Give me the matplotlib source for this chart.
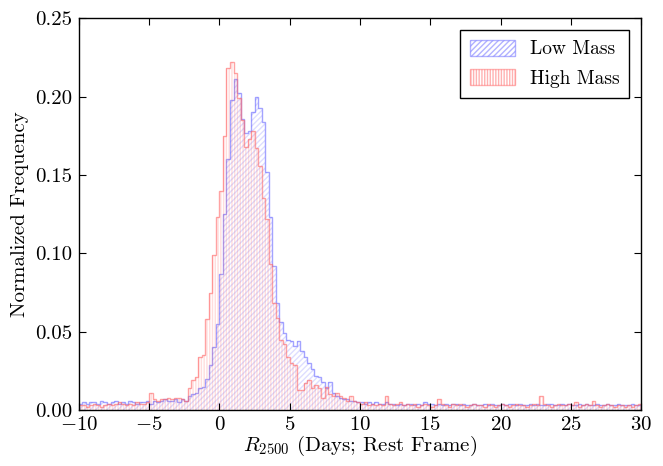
import numpy as np
import matplotlib
matplotlib.use("Agg")
import matplotlib.pyplot as plt
from matplotlib.patches import Patch

plt.rcParams['font.family'] = 'serif'
plt.rcParams['font.serif'] = ['cmr10']
plt.rcParams['mathtext.fontset'] = 'cm'
plt.rcParams['axes.formatter.use_mathtext'] = True
plt.rcParams['axes.unicode_minus'] = True

bin_edges = np.arange(-10.0, 30.0001, 0.25)

# Low Mass (blue) bin heights, -10 -> 30 in 0.25 steps
low_left = [0.004, 0.005, 0.004, 0.005, 0.005, 0.004, 0.006, 0.005, 0.004, 0.005,
            0.006, 0.004, 0.005, 0.004, 0.006, 0.005, 0.004, 0.005, 0.005, 0.006,
            0.004, 0.006, 0.005, 0.006, 0.007, 0.006, 0.006]
low_rise = [0.007, 0.005, 0.007, 0.006, 0.009, 0.010, 0.011, 0.014, 0.015, 0.020,
            0.029, 0.040, 0.055, 0.087]
low_core = [0.125, 0.160, 0.198, 0.211, 0.202, 0.186, 0.177, 0.178, 0.190, 0.200,
            0.193, 0.184, 0.152, 0.123, 0.092, 0.068, 0.056, 0.049, 0.045, 0.044,
            0.041, 0.044, 0.038, 0.034, 0.030, 0.026, 0.022, 0.021, 0.018, 0.014,
            0.018, 0.011, 0.009]
low_right = [0.008, 0.007, 0.007, 0.006, 0.006, 0.005, 0.005, 0.004, 0.005, 0.004,
             0.005, 0.004, 0.004, 0.005, 0.004, 0.004, 0.003, 0.004, 0.003, 0.004,
             0.004, 0.003, 0.004, 0.003, 0.005, 0.004, 0.004, 0.003, 0.004, 0.003,
             0.004, 0.003, 0.004, 0.004, 0.003, 0.004, 0.003, 0.003, 0.004, 0.003,
             0.003, 0.004, 0.003, 0.004, 0.003, 0.003, 0.004, 0.003, 0.004, 0.004,
             0.003, 0.004, 0.003, 0.003, 0.004, 0.003, 0.004, 0.003, 0.003, 0.004,
             0.004, 0.003, 0.003, 0.004, 0.003, 0.004, 0.003, 0.003, 0.004, 0.003,
             0.004, 0.003, 0.003, 0.004, 0.003, 0.003, 0.004, 0.003, 0.003, 0.004,
             0.003, 0.003, 0.003, 0.004, 0.003, 0.003]
low_mass = low_left + low_rise + low_core + low_right

# High Mass (red) bin heights
high_left = [0.003, 0.003, 0.002, 0.003, 0.004, 0.003, 0.002, 0.003, 0.004, 0.003,
             0.004, 0.005, 0.004, 0.003, 0.004, 0.003, 0.005, 0.004, 0.004, 0.005,
             0.011, 0.007, 0.006, 0.007, 0.007, 0.008, 0.007]
high_rise = [0.008, 0.008, 0.007, 0.006, 0.014, 0.019, 0.021, 0.034, 0.035, 0.058,
             0.075, 0.099, 0.123, 0.140]
high_core = [0.175, 0.218, 0.222, 0.215, 0.199, 0.185, 0.168, 0.173, 0.178, 0.167,
             0.156, 0.135, 0.122, 0.093, 0.068, 0.059, 0.045, 0.042, 0.034, 0.030,
             0.029, 0.013, 0.013, 0.017, 0.019, 0.014, 0.016, 0.014, 0.008, 0.015,
             0.010, 0.009, 0.011]
high_right = [0.009, 0.008, 0.006, 0.009, 0.006, 0.005, 0.004, 0.005, 0.003, 0.004,
              0.003, 0.004, 0.003, 0.009, 0.004, 0.003, 0.004, 0.005, 0.003, 0.004,
              0.003, 0.004, 0.002, 0.003, 0.004, 0.003, 0.002, 0.003, 0.007, 0.004,
              0.003, 0.002, 0.004, 0.003, 0.004, 0.003, 0.002, 0.003, 0.004, 0.003,
              0.003, 0.002, 0.004, 0.003, 0.002, 0.003, 0.004, 0.003, 0.002, 0.003,
              0.004, 0.003, 0.003, 0.002, 0.003, 0.004, 0.003, 0.009, 0.004, 0.003,
              0.002, 0.003, 0.004, 0.003, 0.003, 0.004, 0.003, 0.005, 0.002, 0.003,
              0.004, 0.003, 0.006, 0.003, 0.002, 0.003, 0.004, 0.003, 0.002, 0.003,
              0.003, 0.002, 0.003, 0.002, 0.003, 0.004]
high_mass = high_left + high_rise + high_core + high_right

series_labels = ['Low Mass', 'High Mass']
xticks = [-10, -5, 0, 5, 10, 15, 20, 25, 30]
yticks = [0.00, 0.05, 0.10, 0.15, 0.20, 0.25]

fig = plt.figure(figsize=(6.63, 4.66), dpi=100)
ax = fig.add_axes([0.119, 0.12, 0.848, 0.841])

blue = (0.4, 0.4, 1.0)
red = (1.0, 0.4, 0.4)

for vals, col, hatch, lab in [(low_mass, blue, '//////', series_labels[0]),
                              (high_mass, red, '||||||', series_labels[1])]:
    ax.stairs(vals, bin_edges, fill=True, facecolor='none', edgecolor=col,
              hatch=hatch, linewidth=0, alpha=0.22)
    ax.stairs(vals, bin_edges, fill=False, edgecolor=col, linewidth=1.0,
              alpha=0.6)

handles = [Patch(facecolor='none', edgecolor=(*blue, 0.5), hatch='//////', label=series_labels[0]),
           Patch(facecolor='none', edgecolor=(*red, 0.5), hatch='||||||', label=series_labels[1])]
leg = ax.legend(handles=handles, loc='upper right', fontsize=14, frameon=True,
                fancybox=False, edgecolor='black', framealpha=1,
                borderpad=0.5, labelspacing=0.55, handlelength=2.3,
                handleheight=0.9, handletextpad=0.8, borderaxespad=0.6)
leg.get_frame().set_linewidth(1.0)

ax.set_xlim(-10, 30)
ax.set_ylim(0, 0.25)
ax.set_xticks(xticks)
ax.set_yticks(yticks)
ax.set_yticklabels([f'{v:.2f}' for v in yticks])
ax.set_xticklabels([f'${v}$' if v >= 0 else f'$-{abs(v)}$' for v in xticks])
ax.tick_params(direction='in', top=True, right=True, labelsize=15, length=5, pad=5)
ax.tick_params(axis='x', pad=4)
ax.set_xlabel(r'$R_{2500}$ (Days; Rest Frame)', fontsize=15, labelpad=0)
ax.set_ylabel('Normalized Frequency', fontsize=15)
for s in ax.spines.values():
    s.set_linewidth(1.0)

fig.savefig('out.png', dpi=100)
